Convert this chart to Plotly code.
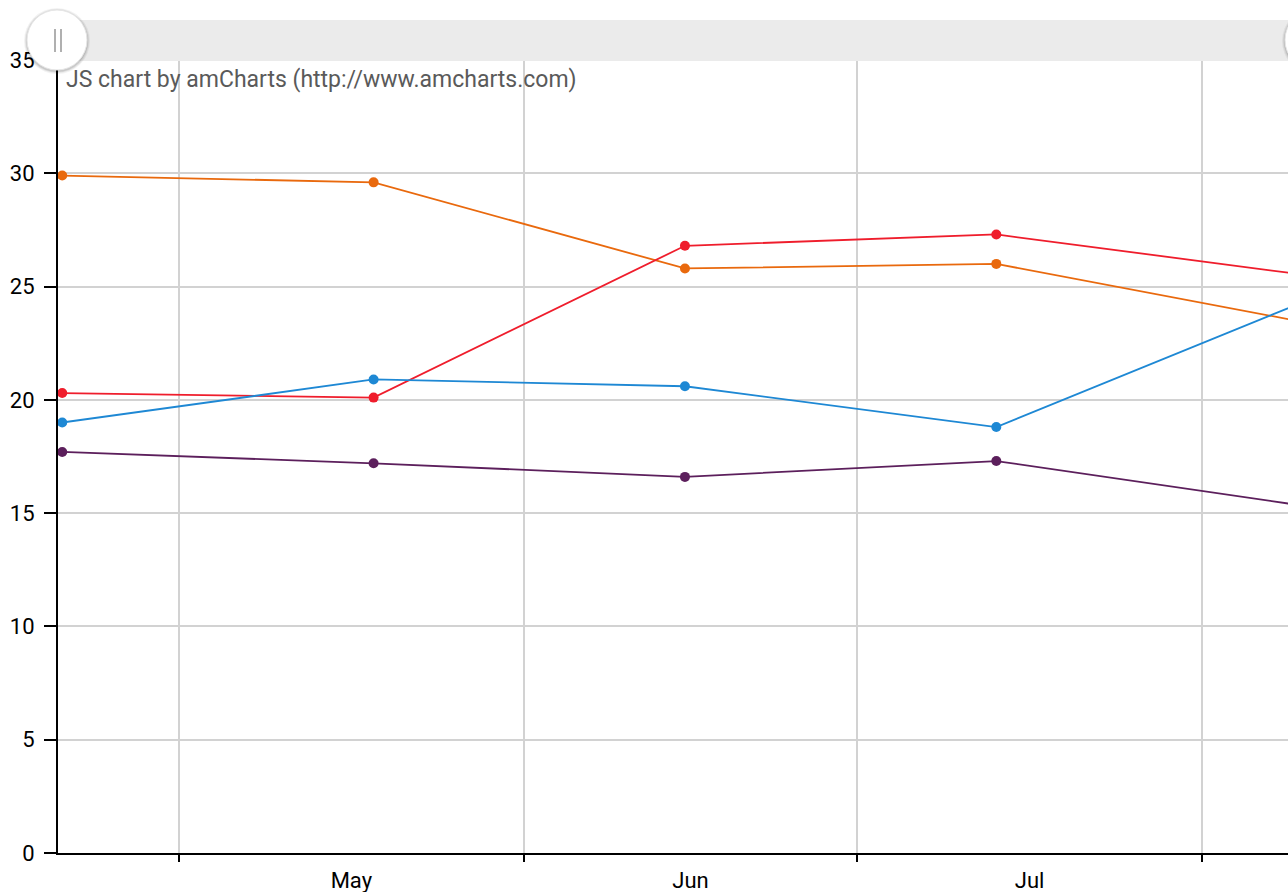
import plotly.graph_objects as go

dates = ["2018-04-20 12:00", "2018-05-18 12:00", "2018-06-15 12:00", "2018-07-13 12:00", "2018-08-10 12:00"]
orange_vals = [29.9, 29.6, 25.8, 26.0, 23.4]
red_vals = [20.3, 20.1, 26.8, 27.3, 25.5]
blue_vals = [19.0, 20.9, 20.6, 18.8, 24.4]
purple_vals = [17.7, 17.2, 16.6, 17.3, 15.3]

series = [
    ("orange", orange_vals, "#e9690d"),
    ("red", red_vals, "#ef1d2c"),
    ("blue", blue_vals, "#1e88d4"),
    ("purple", purple_vals, "#5c1f5c"),
]

W, H = 1288, 892
L, R, T, B = 58, 0, 60, 39
PW, PH = W - L - R, H - T - B

def px(x):
    return (x - L) / PW

def py(y):
    return (H - B - y) / PH

fig = go.Figure()
for name, vals, col in series:
    fig.add_trace(go.Scatter(
        x=dates, y=vals, mode="lines+markers", name=name,
        line=dict(color=col, width=1.8),
        marker=dict(color=col, size=10),
        cliponaxis=True,
    ))

grid = "#d2d2d2"
fig.update_layout(
    width=W, height=H,
    margin=dict(l=L, r=R, t=T, b=B),
    paper_bgcolor="white", plot_bgcolor="white",
    showlegend=False, hovermode=False,
    font=dict(family="Roboto", size=22, color="#000000"),
    xaxis=dict(
        type="date",
        range=["2018-04-20 02:53", "2018-08-08 17:33"],
        dtick="M1", tick0="2018-01-01",
        tickformat="%b", ticklabelmode="period",
        showgrid=True, gridcolor=grid, gridwidth=2,
        showline=True, linecolor="#000000", linewidth=2,
        ticks="outside", ticklen=7, tickwidth=2, tickcolor="#000000",
        zeroline=False, fixedrange=True,
    ),
    yaxis=dict(
        range=[0, 35], dtick=5, tick0=0,
        showgrid=True, gridcolor=grid, gridwidth=2,
        showline=True, linecolor="#000000", linewidth=2,
        ticks="outside", ticklen=12, tickwidth=2, tickcolor="#000000",
        ticklabelstandoff=5,
        zeroline=False, fixedrange=True,
    ),
)

shapes = []
# scrollbar band
shapes.append(dict(type="rect", xref="paper", yref="paper",
                   x0=px(60), x1=px(1290), y0=py(61), y1=py(20),
                   fillcolor="#ebebeb", line=dict(width=0), layer="above"))
# grips: shadow + circle
for cx in (57, 1315):
    for r, a in ((33, 0.05), (32, 0.07), (31, 0.1)):
        shapes.append(dict(type="circle", xref="paper", yref="paper",
                           x0=px(cx - r), x1=px(cx + r), y0=py(41 + r), y1=py(41 - r),
                           fillcolor=f"rgba(0,0,0,{a})", line=dict(width=0), layer="above"))
    shapes.append(dict(type="circle", xref="paper", yref="paper",
                       x0=px(cx - 30), x1=px(cx + 30), y0=py(40 + 30), y1=py(40 - 30),
                       fillcolor="#ffffff", line=dict(color="#e6e6e6", width=1), layer="above"))
# grip bars
for bx in (55, 61):
    shapes.append(dict(type="line", xref="paper", yref="paper",
                       x0=px(bx), x1=px(bx), y0=py(52), y1=py(29),
                       line=dict(color="#a8a8a8", width=1.8), layer="above"))
fig.update_layout(shapes=shapes)

fig.add_annotation(
    text="JS chart by amCharts (http://www.amcharts.com)",
    xref="paper", yref="paper", x=px(64), y=py(79),
    xanchor="left", yanchor="middle", showarrow=False,
    font=dict(family="Roboto", size=23, color="#5a5a5a"),
)

fig.write_html(
    "out.html",
    config=dict(displayModeBar=False),
    post_script="document.body.style.margin='0';document.body.style.overflow='hidden';",
)
